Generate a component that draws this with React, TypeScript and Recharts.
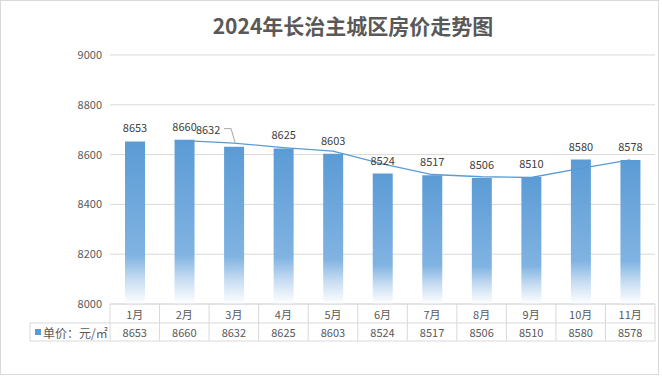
import React from 'react';
import { ComposedChart, Bar, Line, XAxis, YAxis, CartesianGrid, LabelList } from 'recharts';

const months = ['1月', '2月', '3月', '4月', '5月', '6月', '7月', '8月', '9月', '10月', '11月'];
const prices = [8653, 8660, 8632, 8625, 8603, 8524, 8517, 8506, 8510, 8580, 8578];
// 2-period moving average trendline
const trend = [null, 8656, 8646, 8628, 8614, 8563, 8520, 8511, 8508, 8545, 8579];
const yTicks = [8000, 8200, 8400, 8600, 8800, 9000];
const seriesName = '单价：元/㎡';
const title = '2024年长治主城区房价走势图';

const data = months.map((m, i) => ({ month: m, price: prices[i], trend: trend[i] }));

const W = 662;
const H = 376;
const PLOT_LEFT = 110;
const PLOT_RIGHT = 655;
const PLOT_BOTTOM = 304;
const ROW1 = 323;
const ROW2 = 341;
const LEGEND_LEFT = 30;
const BAND = (PLOT_RIGHT - PLOT_LEFT) / months.length;
const FONT = '"Noto Sans CJK SC", "Noto Sans", sans-serif';
const GRID = '#D9D9D9';
const TEXT = '#595959';
const BLUE = '#5B9BD5';

const TableTick = (props: any) => {
  const { x, payload } = props;
  const idx = payload && payload.index != null ? payload.index : props.index;
  const half = BAND / 2;
  return (
    <g>
      {idx === 0 && (
        <g>
          <line x1={x - half} y1={PLOT_BOTTOM} x2={x - half} y2={ROW2} stroke={GRID} />
          <line x1={LEGEND_LEFT} y1={ROW1} x2={PLOT_RIGHT} y2={ROW1} stroke={GRID} />
          <line x1={LEGEND_LEFT} y1={ROW2} x2={PLOT_RIGHT} y2={ROW2} stroke={GRID} />
          <line x1={LEGEND_LEFT} y1={ROW1} x2={LEGEND_LEFT} y2={ROW2} stroke={GRID} />
          <rect x={35} y={329} width={6} height={6} fill={BLUE} />
          <text x={43} y={(ROW1 + ROW2) / 2} dominantBaseline="central" fontSize={12} fill={TEXT} fontFamily={FONT}>
            {seriesName}
          </text>
        </g>
      )}
      <line x1={x + half} y1={PLOT_BOTTOM} x2={x + half} y2={ROW2} stroke={GRID} />
      <text x={x} y={(PLOT_BOTTOM + ROW1) / 2} textAnchor="middle" dominantBaseline="central" fontSize={11} fill={TEXT} fontFamily={FONT}>
        {payload.value}
      </text>
      <text x={x} y={(ROW1 + ROW2) / 2} textAnchor="middle" dominantBaseline="central" fontSize={11} fill={TEXT} fontFamily={FONT}>
        {prices[idx]}
      </text>
    </g>
  );
};

const BarLabel = (props: any) => {
  const { x, y, width, value, index } = props;
  const cx = x + width / 2;
  if (index === 2) {
    return (
      <g>
        <polyline points={`${cx - 10},${y - 18} ${cx - 3},${y - 18} ${cx + 1},${y - 4}`} fill="none" stroke="#A6A6A6" strokeWidth={1} />
        <text x={cx - 26} y={y - 18} textAnchor="middle" dominantBaseline="central" fontSize={11} fill="#404040" fontFamily={FONT}>
          {value}
        </text>
      </g>
    );
  }
  return (
    <text x={cx} y={y - 14} textAnchor="middle" dominantBaseline="central" fontSize={11} fill="#404040" fontFamily={FONT}>
      {value}
    </text>
  );
};

export default function App() {
  return (
    <div style={{ position: 'absolute', left: 0, top: 0, width: W, height: H, background: '#fff' }}>
      <div
        style={{
          position: 'absolute',
          left: 0,
          top: 0,
          width: 659,
          height: 375,
          border: '1px solid #D9D9D9',
          boxSizing: 'border-box',
          pointerEvents: 'none',
        }}
      />
      <div
        style={{
          position: 'absolute',
          left: 44,
          top: 10,
          width: W - 44,
          textAlign: 'center',
          fontFamily: FONT,
          fontWeight: 700,
          fontSize: 21,
          color: TEXT,
          lineHeight: '30px',
        }}
      >
        {title}
      </div>
      <ComposedChart
        width={W}
        height={H}
        data={data}
        margin={{ top: 55, right: W - PLOT_RIGHT, left: 0, bottom: H - ROW2 }}
      >
        <defs>
          <linearGradient id="barGrad" x1="0" y1="0" x2="0" y2="1">
            <stop offset="0%" stopColor="#5B9BD5" />
            <stop offset="70%" stopColor="#80B3E2" />
            <stop offset="85%" stopColor="#C8DDF2" />
            <stop offset="100%" stopColor="#FFFFFF" />
          </linearGradient>
        </defs>
        <CartesianGrid vertical={false} stroke={GRID} />
        <XAxis
          dataKey="month"
          interval={0}
          height={ROW2 - PLOT_BOTTOM}
          tickLine={false}
          axisLine={{ stroke: GRID }}
          tick={<TableTick />}
        />
        <YAxis
          domain={[8000, 9000]}
          ticks={yTicks}
          width={PLOT_LEFT}
          axisLine={false}
          tickLine={false}
          tick={{ fontSize: 11, fill: TEXT, fontFamily: FONT }}
        />
        <Bar dataKey="price" fill="url(#barGrad)" barSize={20} isAnimationActive={false}>
          <LabelList dataKey="price" content={<BarLabel />} />
        </Bar>
        <Line
          dataKey="trend"
          type="linear"
          stroke={BLUE}
          strokeWidth={1.3}
          dot={false}
          connectNulls
          isAnimationActive={false}
        />
      </ComposedChart>
    </div>
  );
}
